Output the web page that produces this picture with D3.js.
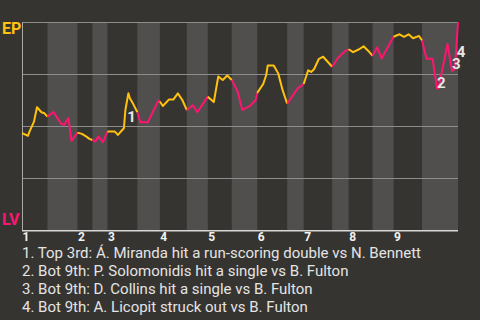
<!DOCTYPE html>
<html>
<head>
<meta charset="UTF-8">
<script src="https://cdn.jsdelivr.net/npm/d3@7/dist/d3.min.js"></script>
<style>
  html, body { margin: 0; padding: 0; background: #363431; }
  svg { display: block; font-family: Roboto, 'Noto Sans', sans-serif; }
</style>
</head>
<body>
<svg id="chart" width="480" height="320"></svg>
<script>
// innings + half-inning boundaries (pitch count where each half starts)
const innings = ['1', '2', '3', '4', '5', '6', '7', '8', '9'];
const halfBounds = [0, 17, 37, 47, 57, 77, 92, 110, 124, 140, 157, 177, 188, 207, 218, 234, 248, 267, 291];

// win probability for EP (%) by pitch
const pitch = [0, 4, 5, 8, 10, 13, 15, 17, 21, 23, 26, 28, 31, 33, 37, 40, 43, 45, 47, 49, 51, 54, 57, 62, 64, 68, 69, 71, 72, 74, 77, 79, 84, 91, 92, 94, 98, 101, 104, 107, 110, 114, 117, 124, 128, 131, 134, 137, 140, 144, 147, 152, 156, 157, 161, 163, 164, 168, 171, 174, 177, 181, 184, 188, 191, 193, 195, 198, 201, 204, 207, 211, 215, 218, 221, 225, 228, 231, 234, 237, 240, 248, 252, 255, 258, 261, 265, 267, 270, 274, 277, 278, 280, 284, 287, 289, 291];
const epWin = [46.6, 45.3, 47.3, 52.1, 59.0, 56.6, 56.1, 54.5, 56.7, 54.5, 51.2, 50.5, 53.8, 42.8, 46.8, 46.2, 44.9, 43.8, 43.3, 42.5, 45.0, 42.2, 47.3, 47.3, 45.7, 48.9, 57.7, 65.7, 63.3, 60.9, 56.6, 51.8, 51.8, 62.2, 61.8, 59.6, 62.7, 62.7, 65.7, 62.5, 57.6, 60.0, 56.7, 64.1, 61.5, 73.8, 72.1, 74.3, 72.1, 66.5, 57.7, 59.6, 62.5, 65.9, 70.2, 74.5, 79.1, 79.1, 75.3, 67.1, 60.7, 64.9, 68.1, 70.2, 76.8, 76.0, 77.4, 82.1, 83.3, 80.9, 78.5, 82.8, 85.6, 86.9, 85.5, 86.9, 88.3, 86.2, 83.7, 87.8, 82.5, 92.9, 94.1, 92.9, 94.1, 92.2, 93.3, 91.1, 82.3, 82.3, 68.1, 68.1, 75.3, 89.4, 76.4, 77.7, 100];

// key plays
const noteText = [
  '1. Top 3rd: Á. Miranda hit a run-scoring double vs N. Bennett',
  '2. Bot 9th: P. Solomonidis hit a single vs B. Fulton',
  '3. Bot 9th: D. Collins hit a single vs B. Fulton',
  '4. Bot 9th: A. Licopit struck out vs B. Fulton'
];
const noteLabel = ['1', '2', '3', '4'];
const notePitch = [70.3, 277, 287, 290.2];
const noteWin = [51.8, 68.5, 77.3, 83.4];

const yGrid = [0, 25, 50, 75, 100];

const C_BG = '#363431', C_BAND = '#504f4d', C_TOP = '#ffc20e', C_BOT = '#ff1470';

const svg = d3.select('#chart');
const x = d3.scaleLinear().domain([0, 291]).range([22, 458]);
const y = d3.scaleLinear().domain([0, 100]).range([230, 22]);

svg.append('rect').attr('width', 480).attr('height', 320).attr('fill', C_BG);

// bottom half-inning bands
const halves = d3.range(halfBounds.length - 1).map(i => ({ i, a: halfBounds[i], b: halfBounds[i + 1] }));
svg.append('g').selectAll('rect')
  .data(halves.filter(h => h.i % 2 === 1)).join('rect')
  .attr('x', d => x(d.a)).attr('width', d => x(d.b) - x(d.a))
  .attr('y', y(100)).attr('height', y(0) - y(100))
  .attr('fill', C_BAND);

// grid
svg.append('g').selectAll('line')
  .data(yGrid.filter(v => v > 0)).join('line')
  .attr('x1', x(0)).attr('x2', x(291))
  .attr('y1', d => Math.round(y(d)) + 0.5).attr('y2', d => Math.round(y(d)) + 0.5)
  .attr('stroke', '#8e8d8b').attr('stroke-width', 1);
svg.append('line').attr('x1', x(0) + 0.5).attr('x2', x(0) + 0.5)
  .attr('y1', y(100)).attr('y2', y(0))
  .attr('stroke', '#a9a8a6');
svg.append('line').attr('x1', x(0)).attr('x2', x(291))
  .attr('y1', y(0) + 0.75).attr('y2', y(0) + 0.75)
  .attr('stroke', '#d8d8d8').attr('stroke-width', 1.5);

// line, coloured per half-inning
const pts = pitch.map((p, k) => [p, epWin[k]]);
const line = d3.line().x(d => x(d[0])).y(d => y(d[1]));
svg.append('g').selectAll('path')
  .data(halves).join('path')
  .attr('d', h => line(pts.filter(p => p[0] >= h.a && p[0] <= h.b)))
  .attr('fill', 'none')
  .attr('stroke', h => h.i % 2 === 0 ? C_TOP : C_BOT)
  .attr('stroke-width', 2)
  .attr('stroke-linejoin', 'round');

// team labels
svg.append('text').attr('x', 2).attr('y', 34).text('EP')
  .attr('fill', C_TOP).attr('font-size', 16).attr('font-weight', 'bold');
svg.append('text').attr('x', 2).attr('y', 225).text('LV')
  .attr('fill', C_BOT).attr('font-size', 16).attr('font-weight', 'bold');

// inning numbers at start of each top half
svg.append('g').selectAll('text')
  .data(innings).join('text')
  .attr('x', (d, i) => x(halfBounds[i * 2]) + 0.5)
  .attr('y', 241)
  .text(d => d)
  .attr('fill', '#f2f2f2').attr('font-size', 12).attr('font-weight', 'bold');

// play markers
svg.append('g').selectAll('text')
  .data(noteLabel).join('text')
  .attr('x', (d, i) => x(notePitch[i]))
  .attr('y', (d, i) => y(noteWin[i]))
  .text(d => d)
  .attr('fill', '#e6e6e6').attr('font-size', 15).attr('font-weight', 'bold');

// play list
svg.append('g').selectAll('text')
  .data(noteText).join('text')
  .attr('x', 22).attr('y', (d, i) => 257.5 + i * 18)
  .text(d => d)
  .attr('fill', '#e4e4e4').attr('font-size', 15);
</script>
</body>
</html>
